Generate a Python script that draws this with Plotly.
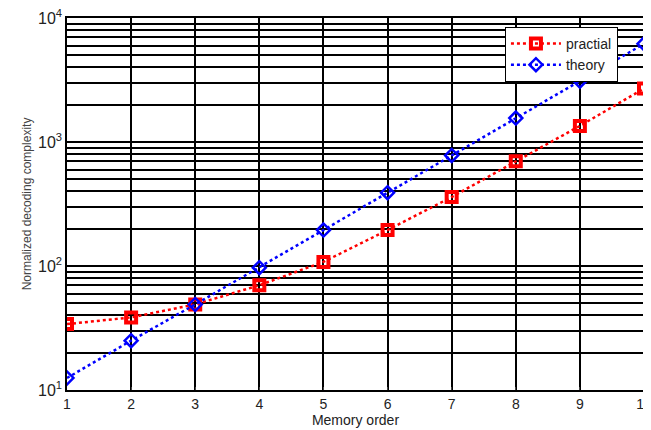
import plotly.graph_objects as go

memory_order = [1, 2, 3, 4, 5, 6, 7, 8, 9, 10]
practical = [34, 38.5, 49, 70, 108, 195, 360, 700, 1350, 2700]
theory = [12.5, 25, 49, 97, 195, 390, 780, 1560, 3100, 6200]
y_tickvals = [10, 100, 1000, 10000]
y_ticktext = ["10<sup>1</sup>", "10<sup>2</sup>", "10<sup>3</sup>", "10<sup>4</sup>"]

fig = go.Figure()
fig.add_trace(go.Scatter(
    x=memory_order, y=practical, name="practial", mode="lines+markers",
    line=dict(color="red", width=2.5, dash="dot"),
    marker=dict(symbol="square-open", size=10, color="red", line=dict(width=4, color="red")),
))
fig.add_trace(go.Scatter(
    x=memory_order, y=theory, name="theory", mode="lines+markers",
    line=dict(color="blue", width=2.5, dash="dot"),
    marker=dict(symbol="diamond-open", size=10, color="blue", line=dict(width=2.5, color="blue")),
))

fig.update_layout(
    width=643, height=422,
    margin=dict(l=59, r=7, t=10, b=40),
    plot_bgcolor="white", paper_bgcolor="white",
    font=dict(family="Liberation Sans, Arial, sans-serif", size=14, color="#222"),
    legend=dict(x=0.759, y=0.976, xanchor="left", yanchor="top",
                bgcolor="white", bordercolor="black", borderwidth=1,
                font=dict(size=14), tracegroupgap=0, itemwidth=50),
    showlegend=True,
)
fig.update_xaxes(
    range=[1, 10], tickvals=memory_order, showgrid=True, gridcolor="black", gridwidth=1.5,
    showline=True, linecolor="black", linewidth=1.5, mirror=True, automargin=False,
    ticklabeloverflow="allow",
    ticks="inside", ticklen=3, zeroline=False, tickfont=dict(size=14),
    title=dict(text="Memory order", standoff=2, font=dict(size=14)),
)
fig.update_yaxes(
    type="log", range=[1, 4.0005], tickvals=y_tickvals, ticktext=y_ticktext,
    showgrid=True, gridcolor="black", gridwidth=1.5, automargin=False,
    ticklabeloverflow="allow",
    minor=dict(showgrid=True, gridcolor="black", gridwidth=1.5, dtick="D1"),
    showline=True, linecolor="black", linewidth=1.5, mirror=True,
    ticks="", zeroline=False, tickfont=dict(size=16),
    title=dict(text="Normalized decoding complexity", standoff=4,
               font=dict(size=12, family="Liberation Sans Narrow, Arial Narrow, sans-serif", color="#444")),
)
fig.write_html("out.html")
